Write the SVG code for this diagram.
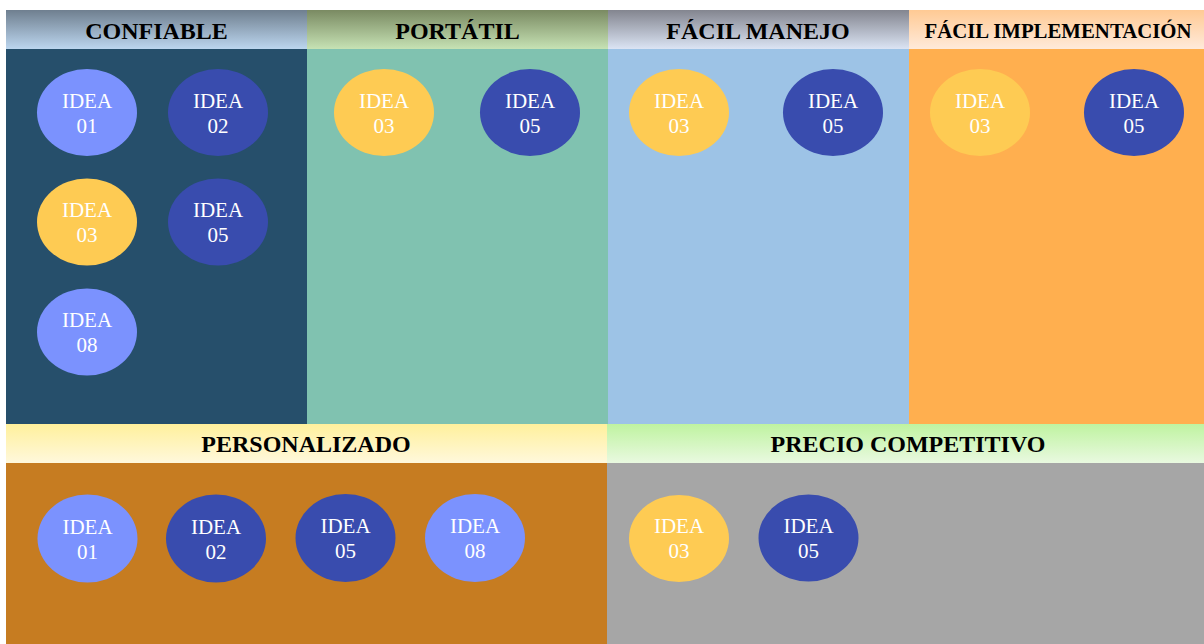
<svg xmlns="http://www.w3.org/2000/svg" width="1204" height="644" viewBox="0 0 1204 644">
<defs>
<linearGradient id="g1" x1="0" y1="0" x2="0" y2="1"><stop offset="0" stop-color="#6f7f8f"/><stop offset="1" stop-color="#bcd6ef"/></linearGradient>
<linearGradient id="g2" x1="0" y1="0" x2="0" y2="1"><stop offset="0" stop-color="#7a8a62"/><stop offset="1" stop-color="#c6e2b4"/></linearGradient>
<linearGradient id="g3" x1="0" y1="0" x2="0" y2="1"><stop offset="0" stop-color="#83858f"/><stop offset="1" stop-color="#dbe4f4"/></linearGradient>
<linearGradient id="g4" x1="0" y1="0" x2="0" y2="1"><stop offset="0" stop-color="#ffca94"/><stop offset="1" stop-color="#ffeada"/></linearGradient>
<linearGradient id="g5" x1="0" y1="0" x2="0" y2="1"><stop offset="0" stop-color="#fff09c"/><stop offset="1" stop-color="#fff8dc"/></linearGradient>
<linearGradient id="g6" x1="0" y1="0" x2="0" y2="1"><stop offset="0" stop-color="#bff3a0"/><stop offset="1" stop-color="#e9f9e0"/></linearGradient>
</defs>
<style>
.hd{font-family:"Liberation Serif","Times New Roman",serif;font-weight:bold;font-size:24px;fill:#000;text-anchor:middle}
.hs{font-size:20.8px}
.id{font-family:"Liberation Serif","Times New Roman",serif;font-size:21px;fill:#fff;text-anchor:middle}
.lt{fill:#7b92fe}
.dk{fill:#394cae}
.yl{fill:#fecb53}
</style>
<rect width="1204" height="644" fill="#fff"/>
<g id="col-confiable">
<rect x="6" y="49" width="301" height="375" fill="#264f6b"/>
<rect x="6" y="10" width="301" height="39" fill="url(#g1)"/>
<text class="hd" x="156.5" y="39">CONFIABLE</text>
</g>
<g id="col-portatil">
<rect x="307" y="49" width="301" height="375" fill="#80c2b0"/>
<rect x="307" y="10" width="301" height="39" fill="url(#g2)"/>
<text class="hd" x="457.5" y="39">PORTÁTIL</text>
</g>
<g id="col-facil-manejo">
<rect x="608" y="49" width="301" height="375" fill="#9dc3e6"/>
<rect x="608" y="10" width="301" height="39" fill="url(#g3)"/>
<text class="hd" x="758" y="39">FÁCIL MANEJO</text>
</g>
<g id="col-facil-implementacion">
<rect x="909" y="49" width="295" height="375" fill="#ffaf4f"/>
<rect x="909" y="10" width="295" height="39" fill="url(#g4)"/>
<text class="hd hs" x="1058" y="38">FÁCIL IMPLEMENTACIÓN</text>
</g>
<g id="row-personalizado">
<rect x="6" y="463" width="601" height="181" fill="#c67c21"/>
<rect x="6" y="424" width="601" height="39" fill="url(#g5)"/>
<text class="hd" x="306" y="452">PERSONALIZADO</text>
</g>
<g id="row-precio">
<rect x="607" y="463" width="597" height="181" fill="#a6a6a6"/>
<rect x="607" y="424" width="597" height="39" fill="url(#g6)"/>
<text class="hd" x="908" y="452">PRECIO COMPETITIVO</text>
</g>
<g id="connectors"></g>
<g id="c1-idea01"><ellipse class="lt" cx="87" cy="112.5" rx="50" ry="43.5"/><text class="id" x="87" y="107.5">IDEA</text><text class="id" x="87" y="132.5">01</text></g>
<g id="c1-idea02"><ellipse class="dk" cx="218" cy="112.5" rx="50" ry="43.5"/><text class="id" x="218" y="107.5">IDEA</text><text class="id" x="218" y="132.5">02</text></g>
<g id="c1-idea03"><ellipse class="yl" cx="87" cy="222" rx="50" ry="43.5"/><text class="id" x="87" y="217">IDEA</text><text class="id" x="87" y="242">03</text></g>
<g id="c1-idea05"><ellipse class="dk" cx="218" cy="222" rx="50" ry="43.5"/><text class="id" x="218" y="217">IDEA</text><text class="id" x="218" y="242">05</text></g>
<g id="c1-idea08"><ellipse class="lt" cx="87" cy="332" rx="50" ry="43.5"/><text class="id" x="87" y="327">IDEA</text><text class="id" x="87" y="352">08</text></g>
<g id="c2-idea03"><ellipse class="yl" cx="384" cy="112.5" rx="50" ry="43.5"/><text class="id" x="384" y="107.5">IDEA</text><text class="id" x="384" y="132.5">03</text></g>
<g id="c2-idea05"><ellipse class="dk" cx="530" cy="112.5" rx="50" ry="43.5"/><text class="id" x="530" y="107.5">IDEA</text><text class="id" x="530" y="132.5">05</text></g>
<g id="c3-idea03"><ellipse class="yl" cx="679" cy="112.5" rx="50" ry="43.5"/><text class="id" x="679" y="107.5">IDEA</text><text class="id" x="679" y="132.5">03</text></g>
<g id="c3-idea05"><ellipse class="dk" cx="833" cy="112.5" rx="50" ry="43.5"/><text class="id" x="833" y="107.5">IDEA</text><text class="id" x="833" y="132.5">05</text></g>
<g id="c4-idea03"><ellipse class="yl" cx="980" cy="112.5" rx="50" ry="43.5"/><text class="id" x="980" y="107.5">IDEA</text><text class="id" x="980" y="132.5">03</text></g>
<g id="c4-idea05"><ellipse class="dk" cx="1134" cy="112.5" rx="50" ry="43.5"/><text class="id" x="1134" y="107.5">IDEA</text><text class="id" x="1134" y="132.5">05</text></g>
<g id="p-idea01"><ellipse class="lt" cx="87.5" cy="538.5" rx="50" ry="44"/><text class="id" x="87.5" y="533.5">IDEA</text><text class="id" x="87.5" y="558.5">01</text></g>
<g id="p-idea02"><ellipse class="dk" cx="216" cy="538.5" rx="50" ry="44"/><text class="id" x="216" y="533.5">IDEA</text><text class="id" x="216" y="558.5">02</text></g>
<g id="p-idea05"><ellipse class="dk" cx="345.5" cy="538" rx="50" ry="44"/><text class="id" x="345.5" y="533">IDEA</text><text class="id" x="345.5" y="558">05</text></g>
<g id="p-idea08"><ellipse class="lt" cx="475" cy="538" rx="50" ry="44"/><text class="id" x="475" y="533">IDEA</text><text class="id" x="475" y="558">08</text></g>
<g id="pc-idea03"><ellipse class="yl" cx="679" cy="538.5" rx="50" ry="43.5"/><text class="id" x="679" y="533">IDEA</text><text class="id" x="679" y="558">03</text></g>
<g id="pc-idea05"><ellipse class="dk" cx="808.5" cy="538" rx="50" ry="43.5"/><text class="id" x="808.5" y="532.5">IDEA</text><text class="id" x="808.5" y="557.5">05</text></g>
</svg>
